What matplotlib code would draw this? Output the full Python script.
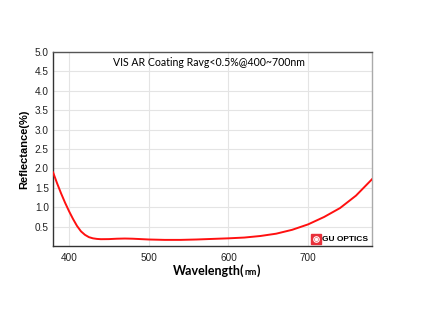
import matplotlib.pyplot as plt

# reflectance curve of the VIS AR coating
wavelength = [380, 385, 390, 395, 400, 405, 410, 415, 420, 425, 430, 435, 440, 450, 460, 470, 480,
              490, 500, 520, 540, 560, 580, 600, 620, 640, 660, 680, 700, 720, 740, 760, 780]
reflectance = [1.90, 1.62, 1.36, 1.12, 0.90, 0.70, 0.52, 0.38, 0.29, 0.23, 0.20, 0.185, 0.178, 0.18, 0.19, 0.195, 0.19,
               0.18, 0.17, 0.16, 0.16, 0.17, 0.185, 0.20, 0.22, 0.26, 0.32, 0.42, 0.56, 0.75, 0.98, 1.30, 1.72]

xticks = [400, 500, 600, 700]
yticks = [0.5, 1.0, 1.5, 2.0, 2.5, 3.0, 3.5, 4.0, 4.5, 5.0]

fig = plt.figure(figsize=(4.35, 3.29), dpi=100)
ax = fig.add_axes([0.122, 0.252, 0.733, 0.590])

ax.plot(wavelength, reflectance, color='#ff1010', lw=1.4, zorder=3)

ax.set_xlim(380, 780)
ax.set_ylim(0, 5.0)
ax.set_xticks(xticks)
ax.set_yticks(yticks)
ax.set_yticklabels(['%.1f' % v for v in yticks])
ax.tick_params(length=0, labelsize=7.2, pad=3, labelcolor='#222222')
for lab in ax.get_xticklabels() + ax.get_yticklabels():
    lab.set_fontfamily('Liberation Sans')
ax.tick_params(axis='x', pad=5)
ax.grid(True, color='#e4e4e4', lw=0.8)
ax.set_axisbelow(True)

ax.spines['left'].set_color('#333333')
ax.spines['bottom'].set_color('#333333')
ax.spines['top'].set_color('#555555')
ax.spines['right'].set_color('#aaaaaa')
for s in ax.spines.values():
    s.set_linewidth(1.0)

ax.text(0.49, 0.945, 'VIS AR Coating Ravg<0.5%@400~700nm', transform=ax.transAxes,
        ha='center', va='center', fontsize=7.6, family='Lato')

ax.set_ylabel('Reflectance(%)', fontsize=8, fontweight='bold', family='Liberation Sans', labelpad=4)

# x label with a smaller "nm"
fig.text(0.562, 0.178, 'Wavelength(', ha='right', va='center', fontsize=9, fontweight='bold', family='Lato')
fig.text(0.5625, 0.173, 'nm', ha='left', va='center', fontsize=6.5, fontweight='bold', family='Lato')
fig.text(0.589, 0.178, ')', ha='left', va='center', fontsize=9, fontweight='bold', family='Lato')

# logo in the lower right corner
ax.plot([0.825], [0.035], transform=ax.transAxes, marker='s', ms=6.5, color='#e8303a', clip_on=False)
ax.plot([0.825], [0.035], transform=ax.transAxes, marker='o', ms=4, mfc='none', mec='white', mew=0.8, clip_on=False)
ax.plot([0.825], [0.035], transform=ax.transAxes, marker='o', ms=1.5, color='white', clip_on=False)
ax.text(0.843, 0.035, 'GU OPTICS', transform=ax.transAxes, ha='left', va='center',
        fontsize=6, fontweight='bold', family='Liberation Sans')

fig.savefig('out.png', dpi=100)
